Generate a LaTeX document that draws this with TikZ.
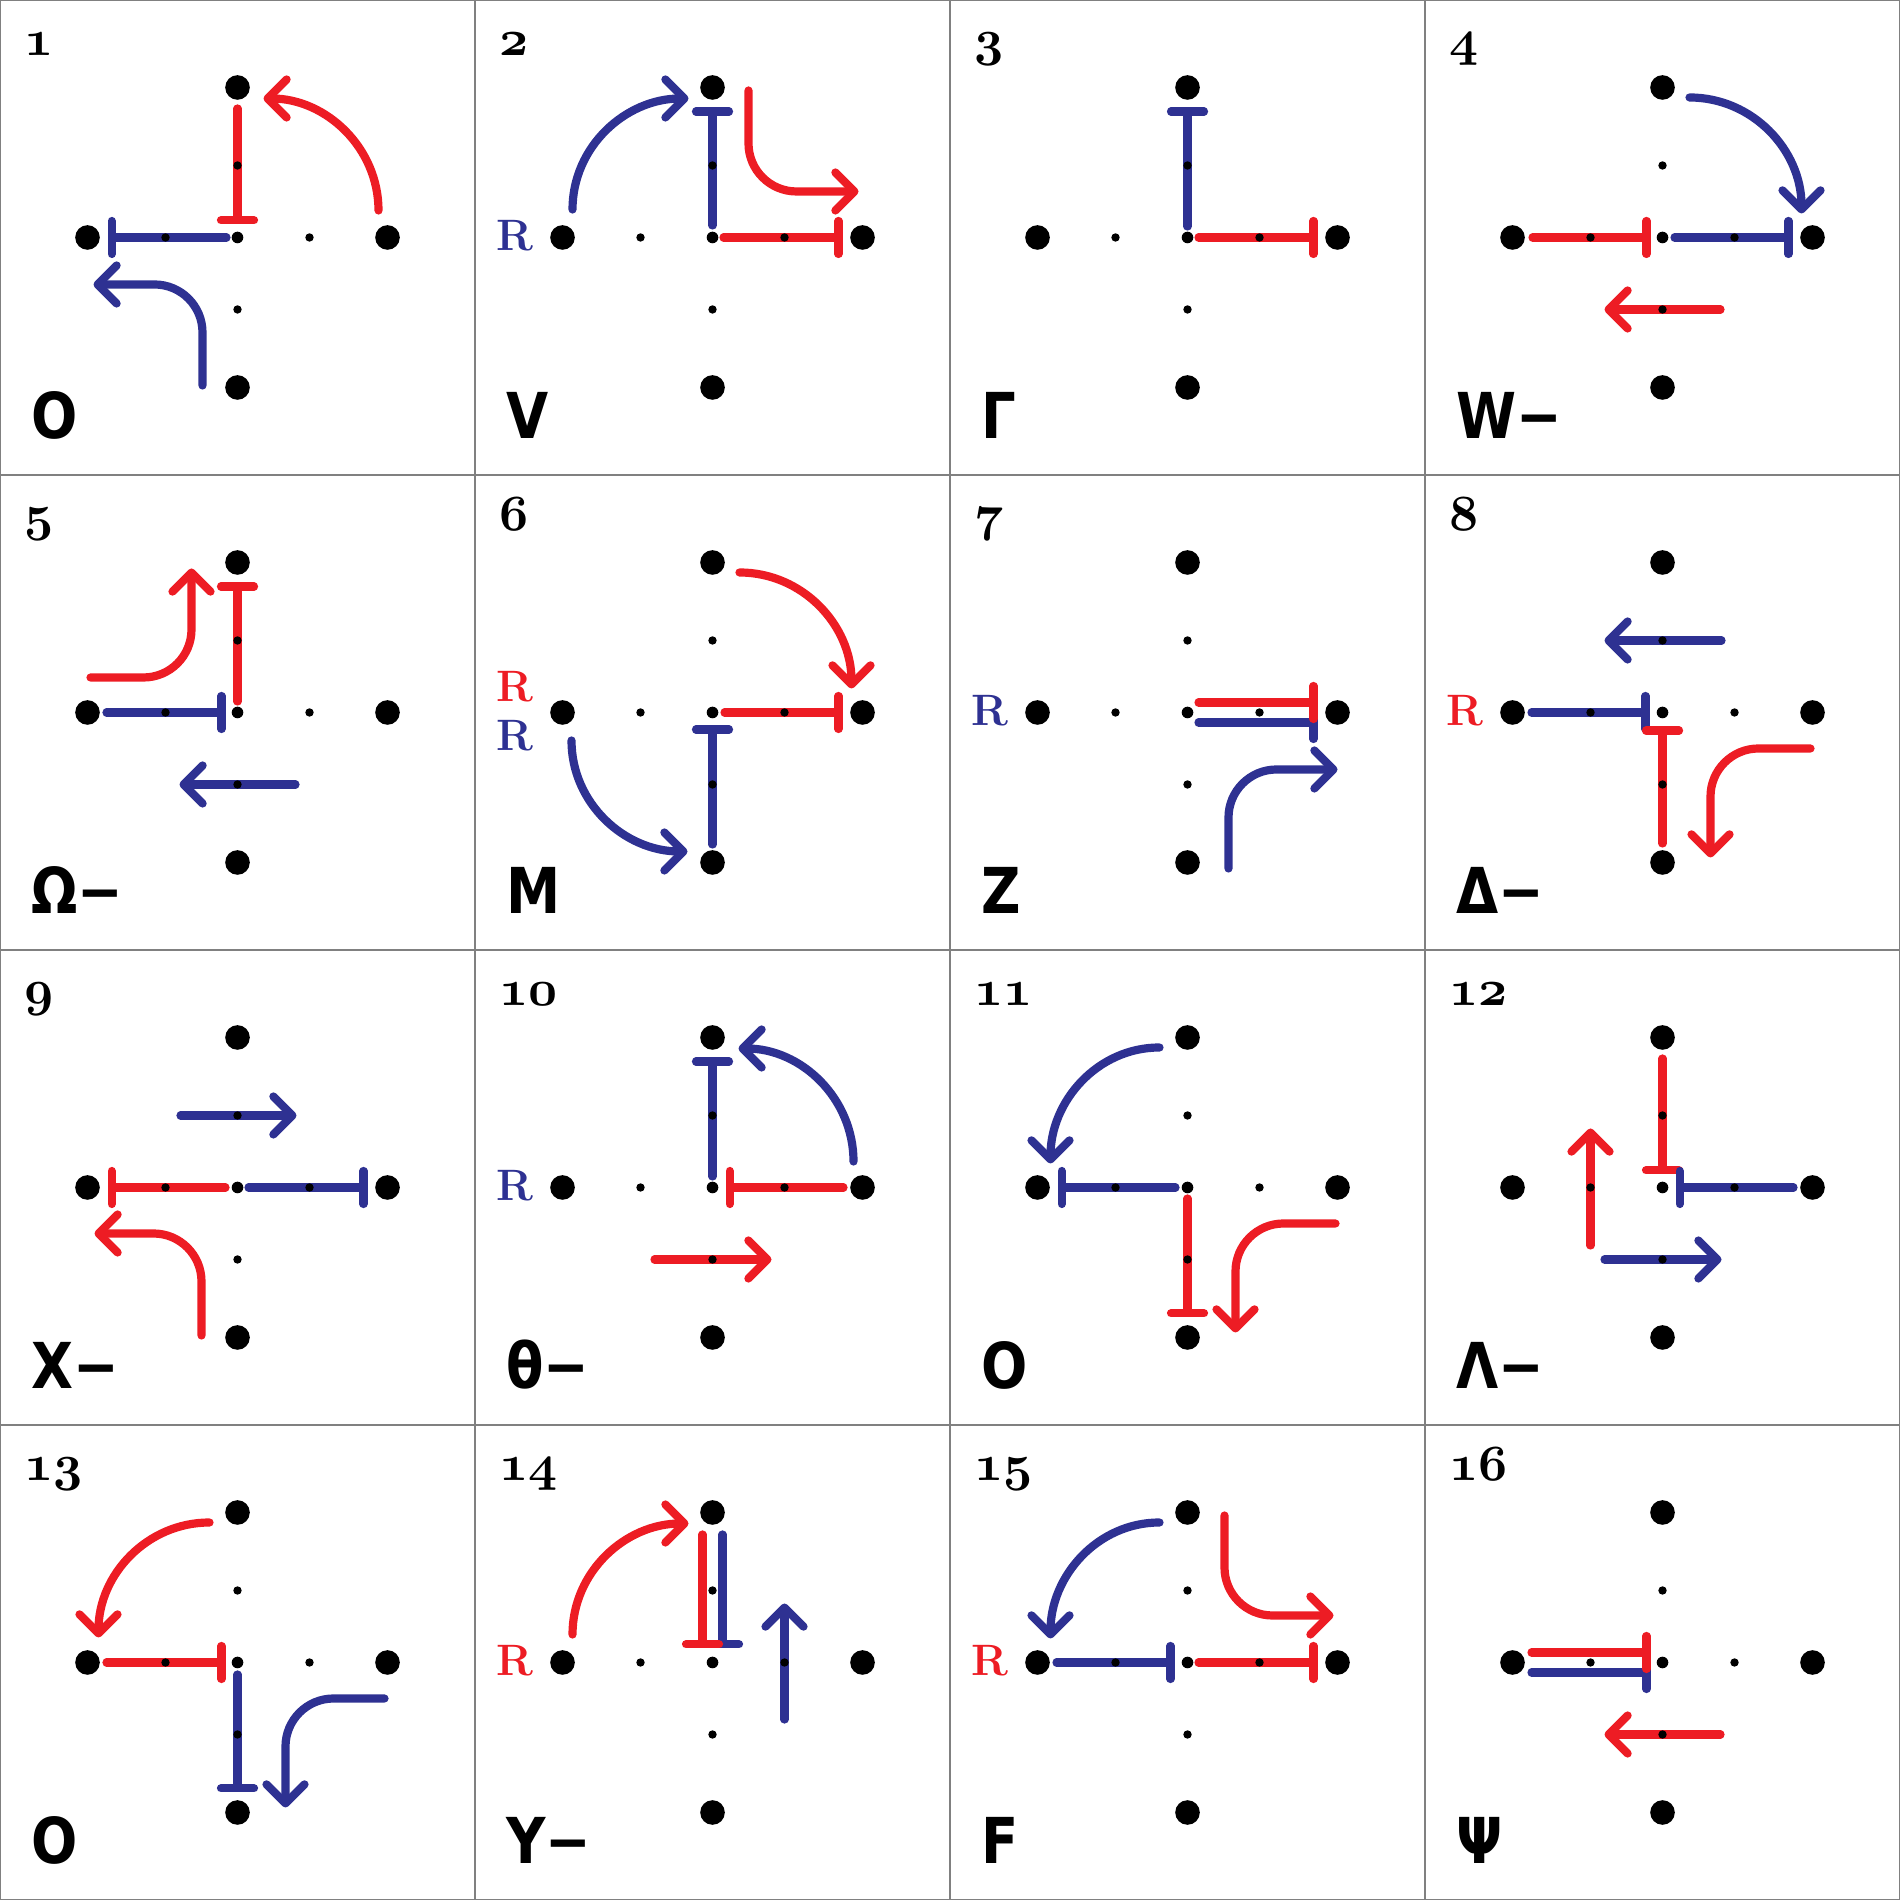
\documentclass[tikz,border=0pt]{standalone}
\usepackage{fontspec}
\usetikzlibrary{arrows.meta}
\newfontfamily\lblfont{DejaVu Sans Bold}[FakeStretch=0.86]
\newcommand\numfont{\fontsize{14.4}{16}\usefont{OML}{cmm}{b}{it}}
\definecolor{myred}{RGB}{237,28,36}
\definecolor{myblue}{RGB}{46,49,146}
\tikzset{
  rd/.style={draw=myred, line width=0.082cm, line cap=round},
  bl/.style={draw=myblue, line width=0.082cm, line cap=round},
  inhib/.style={-{Bar[width=0.33cm,round]}},
  act/.style={-{Straight Barb[length=0.19cm,width=0.38cm,round]}},
  elbow/.style={rounded corners=0.48cm},
  cell/.style 2 args={shift={({475*#1+237.5},{1662.5-475*#2})}},
  rlbl/.style={anchor=base, inner sep=0, font=\fontsize{12.5}{13}\selectfont\bfseries},
}
\begin{document}
\begin{tikzpicture}[x=0.01cm,y=0.01cm]
\useasboundingbox (0,0) rectangle (1900,1900);
\draw[gray, line width=0.02cm] (0,0) rectangle (1900,1900);
\foreach \k in {475,950,1425} {
  \draw[gray, line width=0.02cm] (\k,0) -- (\k,1900);
  \draw[gray, line width=0.02cm] (0,\k) -- (1900,\k);
}
% 1
\begin{scope}[cell={0}{0}]
  \draw[rd,inhib] (0,129) -- (0,13);
  \draw[bl,inhib] (-11,0) -- (-130,0);
  \draw[rd,act] (141,27) to[out=90,in=0] (26,139);
  \draw[bl,act,elbow] (-35,-148) -- (-35,-47) -- (-144,-47);
\end{scope}
% 2
\begin{scope}[cell={1}{0}]
  \draw[bl,act] (-140,28) to[out=90,in=180] (-24,139);
  \draw[bl,inhib] (0,12) -- (0,130);
  \draw[rd,act,elbow] (36,147) -- (36,46) -- (146,46);
  \draw[rd,inhib] (11,0) -- (130,0);
  \node[rlbl, text=myblue] (r2) at (-198,-13.5) {R};
\end{scope}
% 3
\begin{scope}[cell={2}{0}]
  \draw[bl,inhib] (0,11) -- (0,130);
  \draw[rd,inhib] (11,0) -- (130,0);
\end{scope}
% 4
\begin{scope}[cell={3}{0}]
  \draw[bl,act] (27,140) to[out=0,in=90] (139,24);
  \draw[rd,inhib] (-130,0) -- (-12,0);
  \draw[bl,inhib] (12,0) -- (130,0);
  \draw[rd,act] (58,-72) -- (-58,-72);
\end{scope}
% 5
\begin{scope}[cell={0}{1}]
  \draw[rd,act,elbow] (-147,35) -- (-46,35) -- (-46,144);
  \draw[rd,inhib] (0,11) -- (0,130);
  \draw[bl,inhib] (-131,0) -- (-12,0);
  \draw[bl,act] (58,-72) -- (-58,-72);
\end{scope}
% 6
\begin{scope}[cell={1}{1}]
  \draw[rd,act] (27,140) to[out=0,in=90] (139,24);
  \draw[rd,inhib] (12,0) -- (130,0);
  \draw[bl,inhib] (0,-132) -- (0,-13);
  \draw[bl,act] (-141,-28) to[out=-90,in=180] (-25,-139);
  \node[rlbl, text=myred] (r6a) at (-198,11) {R};
  \node[rlbl, text=myblue] (r6b) at (-198,-38.5) {R};
\end{scope}
% 7
\begin{scope}[cell={2}{1}]
  \draw[bl,inhib] (11,-10) -- (130,-10);
  \draw[rd,inhib] (11,10) -- (130,10);
  \draw[bl,act,elbow] (41,-156) -- (41,-57) -- (150,-57);
  \node[rlbl, text=myblue] (r7) at (-198,-13.5) {R};
\end{scope}
% 8
\begin{scope}[cell={3}{1}]
  \draw[bl,act] (59,72) -- (-58,72);
  \draw[bl,inhib] (-131,0) -- (-13,0);
  \draw[rd,inhib] (0,-131) -- (0,-14);
  \draw[rd,act,elbow] (148,-36) -- (48,-36) -- (48,-145);
  \node[rlbl, text=myred] (r8) at (-198,-13.5) {R};
\end{scope}
% 9
\begin{scope}[cell={0}{2}]
  \draw[bl,act] (-57,72) -- (59,72);
  \draw[rd,inhib] (-12,0) -- (-130,0);
  \draw[bl,inhib] (11,0) -- (130,0);
  \draw[rd,act,elbow] (-36,-148) -- (-36,-46) -- (-143,-46);
\end{scope}
% 10
\begin{scope}[cell={1}{2}]
  \draw[bl,inhib] (0,11) -- (0,130);
  \draw[bl,act] (141,26) to[out=90,in=0] (26,139);
  \draw[rd,inhib] (131,0) -- (13,0);
  \draw[rd,act] (-58,-72) -- (59,-72);
  \node[rlbl, text=myblue] (r10) at (-198,-13.5) {R};
\end{scope}
% 11
\begin{scope}[cell={2}{2}]
  \draw[bl,act] (-28,140) to[out=180,in=90] (-137,24);
  \draw[bl,inhib] (-12,0) -- (-130,0);
  \draw[rd,inhib] (0,-11) -- (0,-130);
  \draw[rd,act,elbow] (148,-36) -- (48,-36) -- (48,-145);
\end{scope}
% 12
\begin{scope}[cell={3}{2}]
  \draw[rd,inhib] (0,129) -- (0,13);
  \draw[bl,inhib] (131,0) -- (13,0);
  \draw[rd,act] (-72,-58) -- (-72,59);
  \draw[bl,act] (-58,-72) -- (59,-72);
\end{scope}
% 13
\begin{scope}[cell={0}{3}]
  \draw[rd,act] (-28,140) to[out=180,in=90] (-139,25);
  \draw[rd,inhib] (-131,0) -- (-12,0);
  \draw[bl,inhib] (0,-12) -- (0,-130);
  \draw[bl,act,elbow] (147,-36) -- (48,-36) -- (48,-145);
\end{scope}
% 14
\begin{scope}[cell={1}{3}]
  \draw[rd,act] (-140,28) to[out=90,in=180] (-24,139);
  \draw[bl,inhib] (10,128) -- (10,14);
  \draw[rd,inhib] (-10,128) -- (-10,14);
  \draw[bl,act] (72,-57) -- (72,59);
  \node[rlbl, text=myred] (r14) at (-198,-13.5) {R};
\end{scope}
% 15
\begin{scope}[cell={2}{3}]
  \draw[bl,act] (-28,140) to[out=180,in=90] (-137,24);
  \draw[rd,act,elbow] (37,147) -- (37,47) -- (146,47);
  \draw[bl,inhib] (-131,0) -- (-13,0);
  \draw[rd,inhib] (11,0) -- (130,0);
  \node[rlbl, text=myred] (r15) at (-198,-13.5) {R};
\end{scope}
% 16
\begin{scope}[cell={3}{3}]
  \draw[bl,inhib] (-131,-10) -- (-12,-10);
  \draw[rd,inhib] (-131,10) -- (-12,10);
  \draw[rd,act] (58,-72) -- (-58,-72);
\end{scope}
% dots and labels
\foreach \lbl [count=\i from 0] in {O,V,Γ,W−,Ω−,M,Z,Δ−,X−,θ−,O,Λ−,O,Y−,F,Ψ} {
  \pgfmathtruncatemacro\cc{mod(\i,4)}
  \pgfmathtruncatemacro\rr{int(\i/4)}
  \pgfmathtruncatemacro\nn{\i+1}
  \begin{scope}[cell={\cc}{\rr}]
    \fill (-150,0) circle (12.3) (150,0) circle (12.3) (0,150) circle (12.3) (0,-150) circle (12.3);
    \fill (-72,0) circle (4.2) (72,0) circle (4.2) (0,72) circle (4.2) (0,-72) circle (4.2);
    \fill (0,0) circle (5.8);
    \node[anchor=base west, inner sep=0] (num\nn) at (-214,182) {\numfont\nn};
    \node[anchor=base west, inner sep=0] (lbl\nn) at (-207,-201) {\fontsize{18}{20}\lblfont\lbl};
  \end{scope}
}
\end{tikzpicture}
\end{document}
